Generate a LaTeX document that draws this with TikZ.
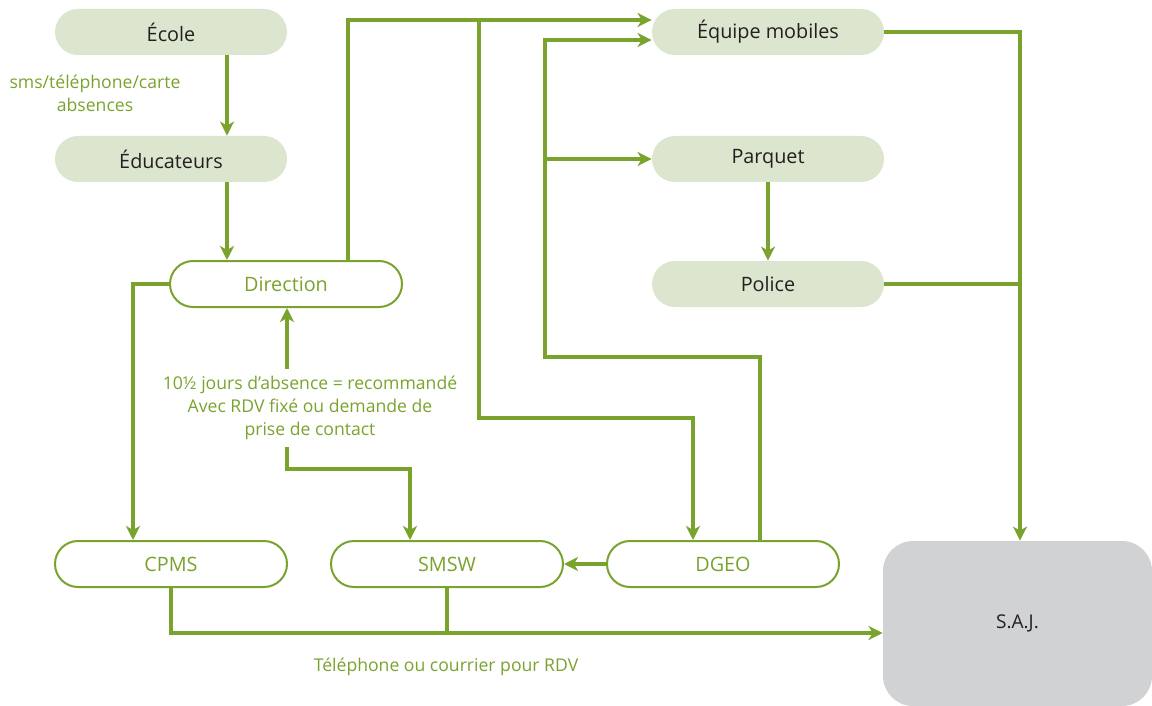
\documentclass[tikz,border=0pt]{standalone}
\usepackage{fontspec}
\setmainfont{Open Sans}
\usetikzlibrary{arrows.meta}
\definecolor{vert}{HTML}{7AA32E}
\definecolor{vertclair}{HTML}{DCE5CE}
\definecolor{gris}{HTML}{D1D2D4}
\definecolor{texte}{HTML}{231F20}
\tikzset{
  plein/.style={rectangle, rounded corners=11.5pt, minimum width=116pt, minimum height=23pt,
    fill=vertclair, text=texte, font=\fontsize{9.9}{11}\selectfont},
  vide/.style={plein, fill=white, draw=vert, line width=1pt, text=vert},
  saj/.style={rectangle, rounded corners=15pt, minimum width=134.5pt, minimum height=82.5pt,
    fill=gris, text=texte, font=\fontsize{9.5}{11}\selectfont},
  note/.style={text=vert, align=center, font=\fontsize{8.8}{11.5}\selectfont},
  trait/.style={draw=vert, line width=2pt},
  fleche/.style={trait, -{Stealth[length=7pt,width=7pt,inset=2pt]}}
}
\begin{document}
\begin{tikzpicture}[x=0.5pt,y=-0.5pt]
        \useasboundingbox (0,0) rectangle (1152,706);

        \node[plein] (ecole) at (171,32) {École};
        \node[plein] (educ) at (171,159) {Éducateurs};
        \node[vide] (dir) at (286,284) {Direction};
        \node[plein] (equipe) at (768,32) {Équipe mobiles};
        \node[plein] (parquet) at (768,159) {Parquet};
        \node[plein] (police) at (768,284) {Police};
        \node[vide] (cpms) at (171,564) {CPMS};
        \node[vide] (smsw) at (447,564) {SMSW};
        \node[vide] (dgeo) at (723,564) {DGEO};
        \node[saj] (saj) at (1017.5,623.5) {S.A.J.};

        \node[note] (sms) at (95,93) {sms/téléphone/carte\\absences};
        \node[note] (rdv) at (310,408) {10½ jours d’absence = recommandé\\Avec RDV fixé ou demande de\\prise de contact};
        \node[note] (tel) at (446,667) {Téléphone ou courrier pour RDV};

        \coordinate (branche) at (479,20);
        \coordinate (embranch) at (545,159);
        \coordinate (jonction) at (1020,284);

        \draw[fleche] (ecole.south -| 227,0) -- (educ.north -| 227,0);
        \draw[fleche] (educ.south -| 227,0) -- (dir.north -| 227,0);
        \draw[fleche] (dir.west) -| (cpms.north -| 133,0);
        \draw[fleche] (dir.north -| 348,0) |- (equipe.west |- 0,20);
        \draw[fleche] (branche) |- (693,418) -- (dgeo.north -| 693,0);
        \draw[fleche] (dgeo.north -| 760,0) |- (545,357) |- (equipe.west |- 0,40);
        \draw[fleche] (embranch) -- (parquet.west);
        \draw[fleche] (parquet) -- (police);
        \draw[fleche] (equipe.east) -| (saj.north -| jonction);
        \draw[trait] (police.east) -- (jonction);
        \draw[fleche] (rdv.north -| 287,0) -- (dir.south -| 287,0);
        \draw[fleche] (rdv.south -| 287,0) -- ++(0,22) -| (smsw.north -| 410,0);
        \draw[fleche] (dgeo.west) -- (smsw.east);
        \draw[fleche] (cpms.south) |- (saj.west |- 0,633);
        \draw[trait] (smsw.south) -- (smsw.south |- 0,633);

    \end{tikzpicture}
\end{document}
